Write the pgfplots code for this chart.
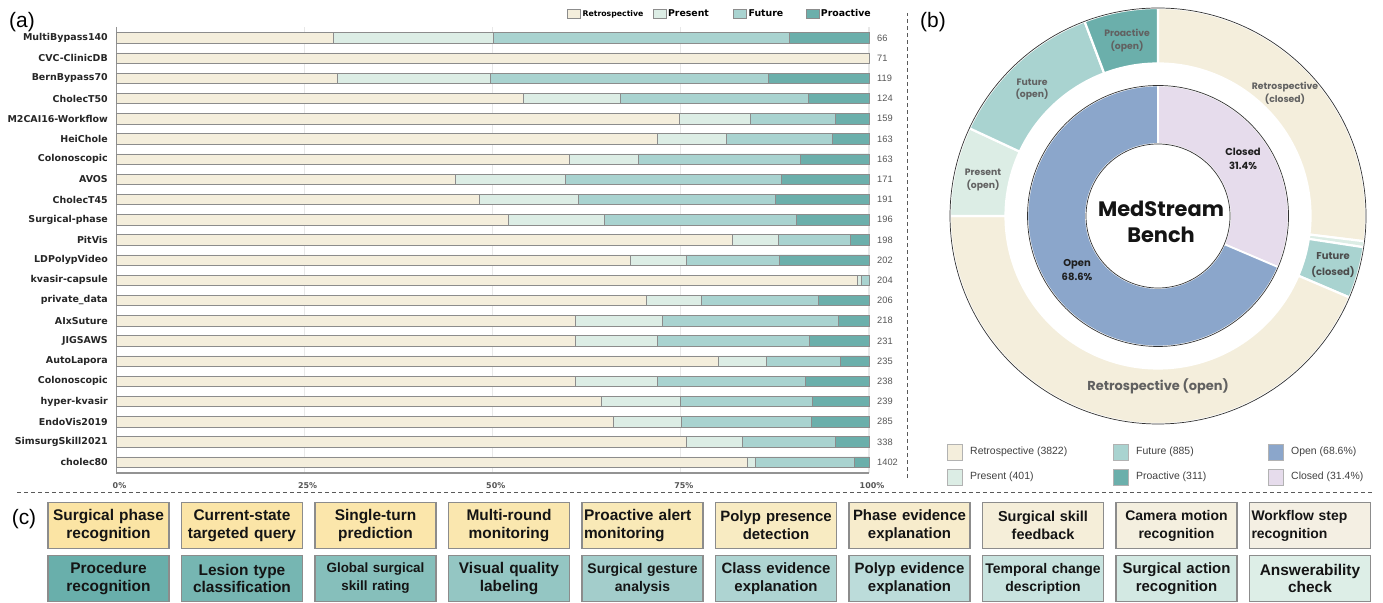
\documentclass[border=0pt]{standalone}
\usepackage{pgfplots}
\pgfplotsset{compat=1.18}
\usepackage{pgfplotstable}
\usepackage{fontspec}
\setmainfont{Liberation Sans}
\newfontfamily\dejavu{DejaVu Sans}
\newfontfamily\poppins{Poppins}

\definecolor{cRetro}{HTML}{F4EEDC}
\definecolor{cPres}{HTML}{DCEDE5}
\definecolor{cFut}{HTML}{A9D3D0}
\definecolor{cPro}{HTML}{6BAFAB}
\definecolor{cOpen}{HTML}{8BA6CB}
\definecolor{cClosed}{HTML}{E6DCEC}
\definecolor{barline}{HTML}{8C8C8C}
\definecolor{txtgray}{HTML}{555555}

% share of each category per dataset (%), total number of questions
\pgfplotstableread[col sep=comma]{
name,ret,pre,fut,pro,tot
MultiBypass140,28.8,21.2,39.4,10.6,66
CVC-ClinicDB,100,0,0,0,71
BernBypass70,29.4,20.2,37.0,13.4,119
CholecT50,54.0,12.9,25.0,8.1,124
M2CAI16-Workflow,74.8,9.4,11.3,4.5,159
HeiChole,71.8,9.2,14.1,4.9,163
Colonoscopic,60.1,9.2,21.5,9.2,163
AVOS,45.0,14.6,28.7,11.7,171
CholecT45,48.2,13.1,26.2,12.5,191
Surgical-phase,52.0,12.8,25.5,9.7,196
PitVis,81.8,6.1,9.6,2.5,198
LDPolypVideo,68.3,7.4,12.4,11.9,202
kvasir-capsule,98.5,0.5,1.0,0,204
private\_data,70.4,7.3,15.5,6.8,206
AIxSuture,61.0,11.5,23.4,4.1,218
JIGSAWS,61.0,10.8,20.3,7.9,231
AutoLapora,80.0,6.4,9.8,3.8,235
Colonoscopic,60.9,10.9,19.7,8.5,238
hyper-kvasir,64.4,10.5,17.6,7.5,239
EndoVis2019,66.0,9.1,17.2,7.7,285
SimsurgSkill2021,75.7,7.4,12.4,4.5,338
cholec80,83.8,1.1,13.1,2.0,1402
}\bardata

\pgfplotsset{barframe/.style={
    at={(116.5bp,130bp)}, anchor=south west,
    scale only axis, width=752.5bp, height=446bp,
    xmin=0, xmax=100, ymin=-0.54, ymax=21.54, y dir=reverse,
    ytick={0,...,21}, major tick length=0pt, axis line style={draw=none}, clip=false}}

\begin{document}
\begin{tikzpicture}[x=1bp,y=1bp]
\useasboundingbox (0,0) rectangle (1383,603);

% ---------- (a) stacked bars
\begin{axis}[
    barframe,
    xbar stacked, bar width=10.5bp,
    yticklabels from table={\bardata}{name},
    xtick={0,25,50,75,100}, xticklabels={0\%,25\%,50\%,75\%,100\%},
    xmajorgrids, grid style={draw=gray!18, line width=1.2bp},
    yticklabel style={font=\dejavu\bfseries\fontsize{9.5}{11}\selectfont, text=black!85, anchor=east, inner sep=0pt, xshift=-8.5bp},
    xticklabel style={font=\dejavu\bfseries\fontsize{8}{9}\selectfont, text=txtgray, anchor=center, yshift=-13bp, xshift=3bp},
    legend style={at={(axis description cs:1,1)}, anchor=south east, xshift=3.5bp, yshift=7bp,
        draw=none, fill=none, inner sep=0pt, legend columns=4,
        nodes={inner sep=1.5bp, text=black},
        font=\dejavu\bfseries\fontsize{9.4}{11}\selectfont,
        /tikz/every even column/.append style={column sep=5bp}},
    legend image code/.code={\draw[#1,draw=barline,line width=0.6bp] (0bp,-4.5bp) rectangle (13bp,4.5bp);},
]
\addplot[fill=cRetro, draw=barline, line width=0.5bp] table[x=ret, y expr=\coordindex] {\bardata};
\addplot[fill=cPres, draw=barline, line width=0.5bp] table[x=pre, y expr=\coordindex] {\bardata};
\addplot[fill=cFut, draw=barline, line width=0.5bp] table[x=fut, y expr=\coordindex] {\bardata};
\addplot[fill=cPro, draw=barline, line width=0.5bp] table[x=pro, y expr=\coordindex] {\bardata};
\addlegendentry{{\fontsize{7.8}{9}\selectfont Retrospective}\rule{3bp}{0pt}}
\addlegendentry{Present\rule{18bp}{0pt}}
\addlegendentry{Future\rule{16bp}{0pt}}
\addlegendentry{Proactive}
\draw[gray!85, line width=1.1bp] (axis description cs:0,1) -- (axis description cs:0,0) -- (axis description cs:1,0);
\end{axis}

% totals on the right
\begin{axis}[
    barframe,
    xtick=\empty,
    yticklabels from table={\bardata}{tot},
    yticklabel pos=right,
    yticklabel style={font=\fontsize{9.3}{10}\selectfont, text=txtgray, anchor=west, inner sep=0pt, xshift=8bp},
]
\addplot[draw=none] table[x expr=0, y expr=\coordindex] {\bardata};
\end{axis}

% ---------- (b) donut: angles from the counts
\gdef\angcur{90}
\foreach \v/\c [count=\i] in {1460/cRetro,25/cPres,217/cFut,2362/cRetro,376/cPres,668/cFut,311/cPro}{
  \pgfmathsetmacro\angnext{\angcur-\v/5419*360}
  \expandafter\xdef\csname oa\i\endcsname{\angcur}
  \expandafter\xdef\csname ob\i\endcsname{\angnext}
  \xglobal\colorlet{oc\i}{\c}
  \global\let\angcur\angnext
}
\gdef\angcur{90}
\foreach \v/\c [count=\i] in {1702/cClosed,3717/cOpen}{
  \pgfmathsetmacro\angnext{\angcur-\v/5419*360}
  \expandafter\xdef\csname ia\i\endcsname{\angcur}
  \expandafter\xdef\csname ib\i\endcsname{\angnext}
  \xglobal\colorlet{ic\i}{\c}
  \global\let\angcur\angnext
}

\begin{axis}[at={(1158bp,387bp)}, anchor=origin, x=1bp, y=1bp, hide axis,
    xmin=-215, xmax=215, ymin=-215, ymax=215, clip=false]
\pgfplotsinvokeforeach{1,...,7}{
  \fill[fill=oc#1, draw=white, line width=2.2bp]
    (axis cs:{208*cos(\csname oa#1\endcsname)},{208*sin(\csname oa#1\endcsname)})
    arc[start angle=\csname oa#1\endcsname, end angle=\csname ob#1\endcsname, radius=208bp]
    -- (axis cs:{152.5*cos(\csname ob#1\endcsname)},{152.5*sin(\csname ob#1\endcsname)})
    arc[start angle=\csname ob#1\endcsname, end angle=\csname oa#1\endcsname, radius=152.5bp] -- cycle;
}
\pgfplotsinvokeforeach{1,2}{
  \fill[fill=ic#1, draw=white, line width=1.8bp]
    (axis cs:{130.5*cos(\csname ia#1\endcsname)},{130.5*sin(\csname ia#1\endcsname)})
    arc[start angle=\csname ia#1\endcsname, end angle=\csname ib#1\endcsname, radius=130.5bp]
    -- (axis cs:{72*cos(\csname ib#1\endcsname)},{72*sin(\csname ib#1\endcsname)})
    arc[start angle=\csname ib#1\endcsname, end angle=\csname ia#1\endcsname, radius=72bp] -- cycle;
}
\draw[black!80, line width=0.7bp] (axis cs:0,0) circle[radius=208bp];
\draw[black!80, line width=0.7bp] (axis cs:0,0) circle[radius=130.5bp];
\draw[black!80, line width=0.7bp] (axis cs:0,0) circle[radius=72bp];

\tikzset{lbl/.style={font=\poppins\bfseries\fontsize{9.3}{13}\selectfont, text=black!62, align=center}}
\node[lbl] at (axis cs:-31,175.5) {Proactive\\(open)};
\node[lbl] at (axis cs:-126,126.5) {Future\\(open)};
\node[lbl] at (axis cs:127,122.5) {Retrospective\\(closed)};
\node[lbl] at (axis cs:-175,36) {Present\\(open)};
\node[lbl, font=\poppins\bfseries\fontsize{10}{16}\selectfont, text=black!70] at (axis cs:175,-49) {Future\\(closed)};
\node[lbl, font=\poppins\bfseries\fontsize{13}{15}\selectfont] at (axis cs:0,-170) {Retrospective (open)};
\node[lbl, font=\poppins\bfseries\fontsize{10}{14}\selectfont, text=black!88] at (axis cs:85,57) {Closed\\31.4\%};
\node[lbl, font=\poppins\bfseries\fontsize{10}{14}\selectfont, text=black!88] at (axis cs:-81,-54) {Open\\68.6\%};
\node[font=\poppins\bfseries\fontsize{21}{26}\selectfont, align=center, text=black!92] at (axis cs:3,-6) {MedStream\\Bench};
\end{axis}

% donut legend
\foreach \x/\y/\c/\t in {947/151/cRetro/Retrospective (3822), 1113/151/cFut/Future (885), 1268/151/cOpen/Open (68.6\%),
    947/126/cPres/Present (401), 1113/126/cPro/Proactive (311), 1268/126/cClosed/Closed (31.4\%)}{
  \filldraw[fill=\c, draw=gray!60, line width=0.6bp] (\x,\y-8) rectangle ++(15,16);
  \node[anchor=west, inner sep=0pt, font=\fontsize{10.5}{12}\selectfont, text=black!75] at (\x+23,\y) {\t};
}

% ---------- (c) task boxes
\tikzset{box/.style={draw=black!45, line width=1.1bp, minimum width=121bp, minimum height=46bp,
    inner sep=0pt, text width=117bp, text=black!92}}
\foreach \i/\col/\fs/\al/\txt in {
  0/FBE4A4/15.5/center/{Surgical phase\\recognition},
  1/FBE5A7/15.5/center/{Current-state\\targeted query},
  2/FBE6AB/15.5/center/{Single-turn\\prediction},
  3/FAE7AF/15.5/center/{Multi-round\\monitoring},
  4/F9E9B7/15.5/left/{Proactive alert\\monitoring},
  5/F8EBC2/15/center/{Polyp presence\\detection},
  6/F7ECCC/15/center/{Phase evidence\\explanation},
  7/F5EED9/14.5/center/{Surgical skill\\feedback},
  8/F4EFDF/14/center/{Camera motion\\recognition},
  9/F4EFE3/14/left/{Workflow step\\recognition}}{
  \edef\tmp{\noexpand\definecolor{bx}{HTML}{\col}}\tmp
  \node[box, fill=bx, align=\al, font=\bfseries\fontsize{\fs}{18}\selectfont] at (108.5+133.5*\i,77.5) {\txt};
}
\foreach \i/\col/\fs/\al/\txt in {
  0/69AFAB/15.5/center/{Procedure\\recognition},
  1/76B6B2/15.5/center/{Lesion type\\classification},
  2/86BFBB/13.5/center/{Global surgical\\skill rating},
  3/94C6C3/15.5/center/{Visual quality\\labeling},
  4/A3CDCB/14/center/{Surgical gesture\\analysis},
  5/AED4D2/15/center/{Class evidence\\explanation},
  6/BCDCDA/15/center/{Polyp evidence\\explanation},
  7/C8E3DF/14/center/{Temporal change\\description},
  8/D3E9E3/15/center/{Surgical action\\recognition},
  9/DDEEE7/15.5/center/{Answerability\\check}}{
  \edef\tmp{\noexpand\definecolor{bx}{HTML}{\col}}\tmp
  \node[box, fill=bx, align=\al, font=\bfseries\fontsize{\fs}{18}\selectfont] at (108.5+133.5*\i,24.5) {\txt};
}

% separators and panel letters
\draw[dash pattern=on 4bp off 3bp, draw=black!65, line width=0.9bp] (17,111) -- (1372,111);
\draw[dash pattern=on 4bp off 3bp, draw=black!65, line width=0.9bp] (907,125) -- (907,590);
\node[font=\fontsize{21}{24}\selectfont] at (22,580.5) {(a)};
\node[font=\fontsize{21}{24}\selectfont] at (933,580.5) {(b)};
\node[font=\fontsize{21}{24}\selectfont] at (24,84) {(c)};
\end{tikzpicture}
\end{document}
